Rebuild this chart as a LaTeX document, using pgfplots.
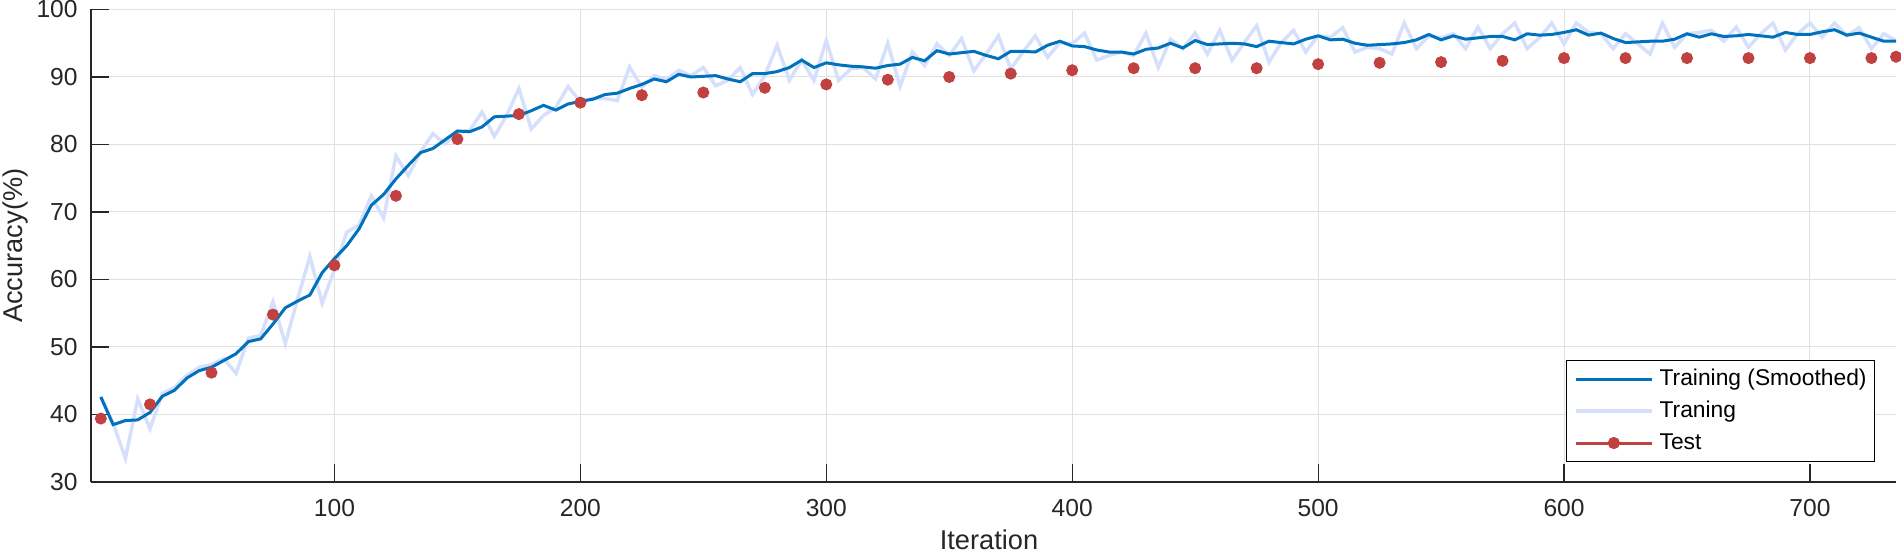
\documentclass[border=0pt]{standalone}
\usepackage{fontspec}
\setmainfont{Liberation Sans}
\usepackage{pgfplots}
\usepackage{pgfplotstable}
\pgfplotsset{compat=1.18}
\definecolor{smoothc}{HTML}{0072BD}
\definecolor{rawc}{HTML}{D6E0FC}
\definecolor{testc}{HTML}{C14040}
\definecolor{axc}{HTML}{262626}
\definecolor{gridc}{HTML}{E0E0E0}

\pgfplotstableread{
x y
5 42.6
10 38.5
15 39.1
20 39.2
25 40.3
30 42.7
35 43.6
40 45.4
45 46.5
50 47.0
55 48.0
60 49.0
65 50.8
70 51.2
75 53.4
80 55.8
85 56.8
90 57.7
95 61.0
100 63.1
105 65.0
110 67.5
115 71.0
120 72.6
125 74.9
130 76.9
135 78.8
140 79.4
145 80.7
150 82.0
155 81.9
160 82.6
165 84.1
170 84.2
175 84.3
180 85.0
185 85.8
190 85.1
195 86.0
200 86.4
205 86.7
210 87.4
215 87.6
220 88.3
225 88.9
230 89.7
235 89.3
240 90.4
245 90.0
250 90.1
255 90.2
260 89.7
265 89.3
270 90.5
275 90.5
280 90.8
285 91.4
290 92.5
295 91.4
300 92.1
305 91.8
310 91.6
315 91.5
320 91.3
325 91.7
330 91.9
335 92.9
340 92.4
345 93.9
350 93.4
355 93.6
360 93.8
365 93.2
370 92.7
375 93.8
380 93.8
385 93.7
390 94.7
395 95.3
400 94.6
405 94.5
410 94.0
415 93.7
420 93.7
425 93.4
430 94.1
435 94.3
440 95.0
445 94.3
450 95.4
455 94.8
460 94.9
465 95.0
470 94.9
475 94.5
480 95.3
485 95.1
490 94.9
495 95.6
500 96.1
505 95.5
510 95.6
515 95.0
520 94.7
525 94.8
530 94.9
535 95.1
540 95.5
545 96.3
550 95.5
555 96.1
560 95.6
565 95.8
570 96.0
575 96.0
580 95.5
585 96.4
590 96.2
595 96.3
600 96.6
605 97.0
610 96.2
615 96.5
620 95.7
625 95.1
630 95.2
635 95.3
640 95.3
645 95.6
650 96.4
655 95.9
660 96.4
665 96.0
670 96.1
675 96.3
680 96.1
685 95.9
690 96.6
695 96.3
700 96.3
705 96.7
710 97.0
715 96.2
720 96.5
725 95.9
730 95.3
735 95.3
}\smoothtab

\pgfplotstableread{
x y
5 42.6
10 38.7
15 33.5
20 42.3
25 37.9
30 43.1
35 44.0
40 45.8
45 47.0
50 47.4
55 48.3
60 46.1
65 51.3
70 51.7
75 56.7
80 50.5
85 57.1
90 63.4
95 56.5
100 61.5
105 67.0
110 68.1
115 72.4
120 69.1
125 78.3
130 75.4
135 78.9
140 81.6
145 80.1
150 81.8
155 82.1
160 84.8
165 81.2
170 84.3
175 88.3
180 82.3
185 84.3
190 85.5
195 88.6
200 86.3
205 86.8
210 86.8
215 86.5
220 91.5
225 88.5
230 90.2
235 89.6
240 91.0
245 90.2
250 91.4
255 88.7
260 89.5
265 91.4
270 87.4
275 90.2
280 94.7
285 89.5
290 92.5
295 89.5
300 95.4
305 89.5
310 91.2
315 91.4
320 89.7
325 95.0
330 88.6
335 93.7
340 91.7
345 94.9
350 93.2
355 95.7
360 90.9
365 93.4
370 96.1
375 91.2
380 93.7
385 96.1
390 92.9
395 95.1
400 94.9
405 96.5
410 92.5
415 93.2
420 93.7
425 93.2
430 96.5
435 91.4
440 95.6
445 94.2
450 96.5
455 93.4
460 96.9
465 92.5
470 95.1
475 97.6
480 92.2
485 95.1
490 96.9
495 93.7
500 96.1
505 95.9
510 97.3
515 93.7
520 94.4
525 94.2
530 93.4
535 98.0
540 94.2
545 96.1
550 95.8
555 96.4
560 94.2
565 97.4
570 94.2
575 96.4
580 98.0
585 94.2
590 95.8
595 98.0
600 94.9
605 98.0
610 96.6
615 96.4
620 94.2
625 96.4
630 94.9
635 93.4
640 98.0
645 94.4
650 96.4
655 96.6
660 96.9
665 95.3
670 97.4
675 94.4
680 96.4
685 98.0
690 94.0
695 96.4
700 98.0
705 95.9
710 98.0
715 96.1
720 97.3
725 94.2
730 96.4
735 95.4
}\rawtab

\pgfplotstableread{
x y
5 39.4
25 41.5
50 46.2
75 54.8
100 62.1
125 72.4
150 80.8
175 84.5
200 86.2
225 87.3
250 87.7
275 88.4
300 88.9
325 89.6
350 90.0
375 90.5
400 91.0
425 91.3
450 91.3
475 91.3
500 91.9
525 92.1
550 92.2
575 92.4
600 92.8
625 92.8
650 92.8
675 92.8
700 92.8
725 92.8
735 93.0
}\testtab

\begin{document}
\begin{tikzpicture}
\begin{axis}[
  at={(0,0)}, anchor=south west,
  scale only axis,
  width=902.5pt, height=236.25pt,
  xmin=1, xmax=735, ymin=30, ymax=100,
  xtick={100,200,300,400,500,600,700},
  ytick={30,40,50,60,70,80,90,100},
  axis x line=bottom, axis y line=left,
  axis line style={-, draw=axc, line width=0.6pt},
  tick align=inside,
  major tick length=9pt,
  tick style={draw=axc, line width=0.6pt},
  grid=major,
  major grid style={draw=gridc, line width=0.5pt},
  /pgf/number format/assume math mode=true,
  ticklabel style={font=\fontsize{12.3}{14}\selectfont, text=axc},
  every x tick label/.style={anchor=north, inner sep=0pt, yshift=-8.5pt},
  every y tick label/.style={anchor=east, inner sep=0pt, xshift=-6.5pt},
  xlabel={Iteration}, ylabel={Accuracy(\%)},
  every axis x label/.style={at={(axis description cs:0.4975,-0.1217)}, anchor=center,
    font=\fontsize{13.6}{16}\selectfont, text=axc},
  every axis y label/.style={at={(axis description cs:-0.0421,0.5)}, rotate=90, anchor=center,
    font=\fontsize{13.6}{16}\selectfont, text=axc},
  legend style={
    at={(rel axis cs:0.9884,0.0423)}, anchor=south east,
    font=\fontsize{11.4}{13}\selectfont,
    draw=black, line width=0.5pt, fill=white,
    inner xsep=4pt, inner ysep=3.75pt,
    cells={anchor=west},
    nodes={inner sep=0pt, text height=8.5pt, text depth=2.5pt},
    column sep=3pt, row sep=5pt,
  },
  legend cell align=left,
  legend image code/.code={\draw[#1] (0pt,0pt) -- (38pt,0pt);},
]
\addplot[rawc, line width=1.75pt, forget plot] table[x=x,y=y] {\rawtab};
\addplot[smoothc, line width=1.5pt] table[x=x,y=y] {\smoothtab};
\addlegendentry{Training (Smoothed)}
\addlegendimage{rawc, line width=1.75pt}
\addlegendentry{Traning}
\addplot[testc, only marks, mark=*, mark size=2.8pt,
  legend image code/.code={\draw[testc, line width=1.5pt] (0pt,0pt) -- (38pt,0pt); \fill[testc] (19pt,0pt) circle (2.8pt);}]
  table[x=x,y=y] {\testtab};
\addlegendentry{Test}
\end{axis}
\pgfresetboundingbox
\path[use as bounding box] (-45.5pt,-36.5pt) rectangle (905pt,241pt);
\end{tikzpicture}
\end{document}
